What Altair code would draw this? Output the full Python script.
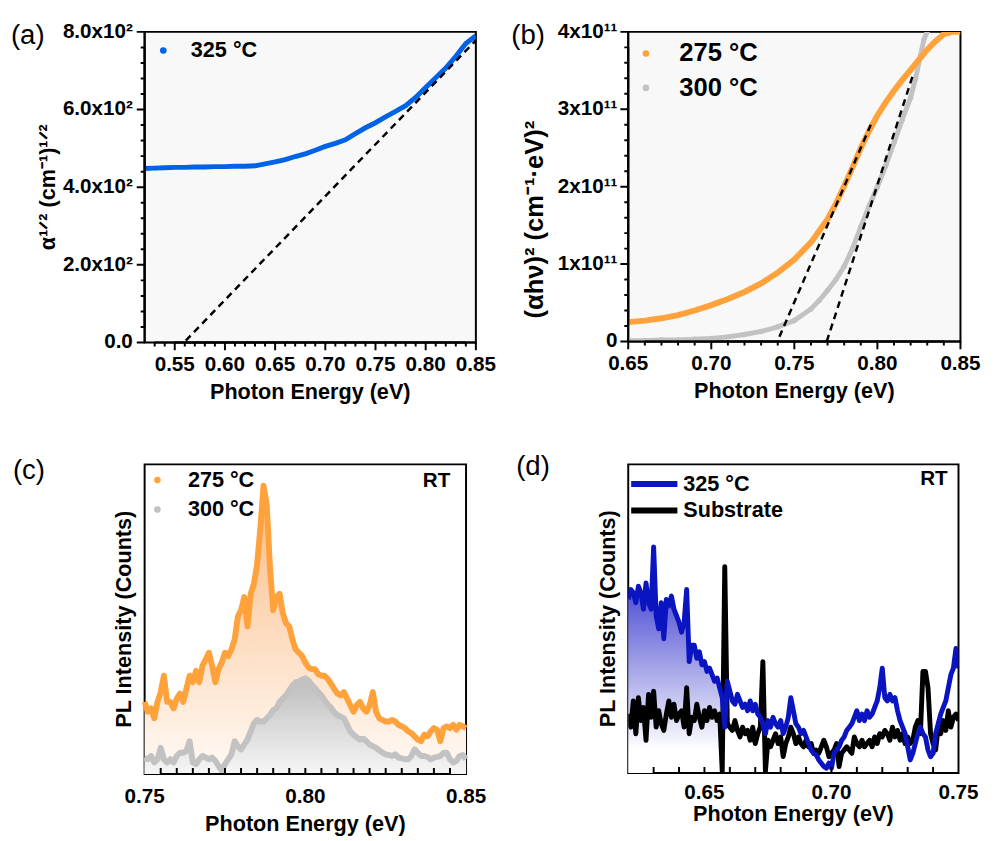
import altair as alt
import pandas as pd

FONT = "Liberation Sans"

# ---------------- (a) ----------------
a_energy = [0.52, 0.53, 0.54, 0.55, 0.56, 0.57, 0.58, 0.59, 0.60, 0.61, 0.62, 0.63,
            0.64, 0.65, 0.66, 0.67, 0.68, 0.69, 0.70, 0.71, 0.72, 0.73, 0.74, 0.75,
            0.76, 0.77, 0.78, 0.79, 0.80, 0.81, 0.82, 0.83, 0.84, 0.85]
a_sqrt_alpha = [448, 449, 450, 451, 451, 452, 452, 453, 453, 454, 454, 455,
                460, 465, 471, 479, 486, 495, 505, 513, 522, 538, 553, 566,
                581, 595, 610, 631, 657, 682, 707, 737, 770, 790]
a_fit_energy = [0.561, 0.85]
a_fit_value = [5, 778]
a_legend = ["325 °C"]
a_x_major = [0.55, 0.60, 0.65, 0.70, 0.75, 0.80, 0.85]
a_x_labels = ["0.55", "0.60", "0.65", "0.70", "0.75", "0.80", "0.85"]
a_x_minor = [0.53, 0.54, 0.56, 0.57, 0.58, 0.59, 0.61, 0.62, 0.63, 0.64, 0.66, 0.67,
             0.68, 0.69, 0.71, 0.72, 0.73, 0.74, 0.76, 0.77, 0.78, 0.79, 0.81, 0.82,
             0.83, 0.84]
a_y_major = [0, 200, 400, 600, 800]
a_y_labels = ["0.0", "2.0x10²", "4.0x10²", "6.0x10²", "8.0x10²"]
a_y_minor = [40, 80, 120, 160, 240, 280, 320, 360, 440, 480, 520, 560, 640, 680,
             720, 760]
a_y_title = "α¹ᐟ² (cm⁻¹)¹ᐟ²"

# ---------------- (b) ----------------
b_energy_275 = [0.650, 0.660, 0.670, 0.680, 0.690, 0.700, 0.710, 0.720, 0.730, 0.740,
                0.750, 0.760, 0.770, 0.775, 0.780, 0.785, 0.790, 0.795, 0.800, 0.805,
                0.810, 0.815, 0.820, 0.825, 0.830, 0.835, 0.840, 0.845, 0.850]
b_value_275 = [0.25, 0.27, 0.30, 0.34, 0.40, 0.47, 0.55, 0.64, 0.75, 0.89,
               1.06, 1.28, 1.58, 1.78, 2.01, 2.25, 2.50, 2.72, 2.92, 3.09,
               3.24, 3.38, 3.51, 3.64, 3.77, 3.88, 3.97, 4.00, 4.00]
b_energy_300 = [0.650, 0.660, 0.670, 0.680, 0.690, 0.700, 0.710, 0.720, 0.730, 0.740,
                0.750, 0.760, 0.765, 0.770, 0.775, 0.780, 0.785, 0.790, 0.795, 0.800,
                0.805, 0.810, 0.815, 0.820, 0.823, 0.826, 0.828, 0.830]
b_value_300 = [0.01, 0.01, 0.02, 0.02, 0.03, 0.04, 0.06, 0.09, 0.13, 0.19,
               0.27, 0.42, 0.53, 0.66, 0.80, 0.97, 1.20, 1.48, 1.75, 2.00,
               2.27, 2.57, 2.87, 3.15, 3.40, 3.70, 3.90, 4.00]
b_fit1_energy = [0.741, 0.797]
b_fit1_value = [0.06, 2.85]
b_fit2_energy = [0.7695, 0.8215]
b_fit2_value = [0.0, 3.45]
b_legend = ["275 °C", "300 °C"]
b_x_major = [0.65, 0.70, 0.75, 0.80, 0.85]
b_x_labels = ["0.65", "0.70", "0.75", "0.80", "0.85"]
b_x_minor = [0.66, 0.67, 0.68, 0.69, 0.71, 0.72, 0.73, 0.74, 0.76, 0.77, 0.78, 0.79,
             0.81, 0.82, 0.83, 0.84]
b_y_major = [0, 1, 2, 3, 4]
b_y_labels = ["0", "1x10¹¹", "2x10¹¹", "3x10¹¹", "4x10¹¹"]
b_y_minor = [0.2, 0.4, 0.6, 0.8, 1.2, 1.4, 1.6, 1.8, 2.2, 2.4, 2.6, 2.8, 3.2, 3.4,
             3.6, 3.8]
b_y_title = "(αhν)² (cm⁻¹·eV)²"

# ---------------- (c) ----------------
c_energy = [0.750, 0.751, 0.752, 0.753, 0.754, 0.755, 0.756, 0.757, 0.758, 0.759,
            0.760, 0.761, 0.762, 0.763, 0.764, 0.765, 0.766, 0.767, 0.768, 0.769,
            0.770, 0.771, 0.772, 0.773, 0.774, 0.775, 0.776, 0.777, 0.778, 0.779,
            0.780, 0.781, 0.782, 0.783, 0.784, 0.785, 0.786, 0.787, 0.788, 0.789,
            0.790, 0.791, 0.792, 0.793, 0.794, 0.795, 0.796, 0.797, 0.798, 0.799,
            0.800, 0.801, 0.802, 0.803, 0.804, 0.805, 0.806, 0.807, 0.808, 0.809,
            0.810, 0.811, 0.812, 0.813, 0.814, 0.815, 0.816, 0.817, 0.818, 0.819,
            0.820, 0.821, 0.822, 0.823, 0.824, 0.825, 0.826, 0.827, 0.828, 0.829,
            0.830, 0.831, 0.832, 0.833, 0.834, 0.835, 0.836, 0.837, 0.838, 0.839,
            0.840, 0.841, 0.842, 0.843, 0.844, 0.845, 0.846, 0.847, 0.848, 0.849,
            0.850]
c_pl_275 = [220, 190, 200, 170, 220, 250, 300, 220, 220, 200,
            230, 245, 220, 260, 300, 280, 315, 280, 330, 350,
            370, 330, 280, 320, 340, 370, 360, 380, 410, 480,
            500, 540, 450, 550, 580, 640, 750, 880, 820, 630,
            500, 540, 550, 490, 460, 450, 410, 380, 370, 360,
            340, 325, 320, 320, 305, 300, 300, 290, 275, 260,
            245, 240, 250, 230, 210, 190, 210, 220, 200, 190,
            210, 250, 190, 170, 165, 160, 160, 165, 160, 150,
            145, 140, 130, 125, 115, 105, 100, 120, 115, 130,
            140, 135, 100, 140, 145, 140, 150, 135, 150, 145,
            140]
c_pl_300 = [50, 45, 55, 35, 45, 80, 45, 35, 45, 35,
            55, 65, 65, 70, 100, 35, 30, 45, 55, 50,
            45, 50, 40, 25, 10, 30, 45, 60, 100, 85,
            75, 90, 105, 130, 155, 165, 160, 160, 170, 180,
            195, 200, 220, 230, 240, 255, 270, 280, 282, 288,
            292, 285, 272, 262, 250, 240, 225, 212, 202, 188,
            180, 175, 170, 150, 130, 120, 112, 105, 108, 100,
            90, 85, 80, 72, 65, 60, 58, 55, 60, 50,
            48, 45, 45, 55, 75, 65, 55, 55, 52, 45,
            50, 52, 55, 65, 65, 45, 35, 40, 55, 58,
            45]
c_legend = ["275 °C", "300 °C"]
c_x_major = [0.75, 0.80, 0.85]
c_x_labels = ["0.75", "0.80", "0.85"]
c_x_ticks = [0.755, 0.760, 0.765, 0.770, 0.775, 0.780, 0.785, 0.790, 0.795, 0.800,
             0.805, 0.810, 0.815, 0.820, 0.825, 0.830, 0.835, 0.840, 0.845]

# ---------------- (d) ----------------
d_energy = [0.620, 0.621, 0.622, 0.623, 0.624, 0.625, 0.626, 0.627, 0.628, 0.629,
            0.630, 0.631, 0.632, 0.633, 0.634, 0.635, 0.636, 0.637, 0.638, 0.639,
            0.640, 0.641, 0.642, 0.643, 0.644, 0.645, 0.646, 0.647, 0.648, 0.649,
            0.650, 0.651, 0.652, 0.653, 0.654, 0.655, 0.656, 0.657, 0.658, 0.659,
            0.660, 0.661, 0.662, 0.663, 0.664, 0.665, 0.666, 0.667, 0.668, 0.669,
            0.670, 0.671, 0.672, 0.673, 0.674, 0.675, 0.676, 0.677, 0.678, 0.679,
            0.680, 0.681, 0.682, 0.683, 0.684, 0.685, 0.686, 0.687, 0.688, 0.689,
            0.690, 0.691, 0.692, 0.693, 0.694, 0.695, 0.696, 0.697, 0.698, 0.699,
            0.700, 0.701, 0.702, 0.703, 0.704, 0.705, 0.706, 0.707, 0.708, 0.709,
            0.710, 0.711, 0.712, 0.713, 0.714, 0.715, 0.716, 0.717, 0.718, 0.719,
            0.720, 0.721, 0.722, 0.723, 0.724, 0.725, 0.726, 0.727, 0.728, 0.729,
            0.730, 0.731, 0.732, 0.733, 0.734, 0.735, 0.736, 0.737, 0.738, 0.739,
            0.740, 0.741, 0.742, 0.743, 0.744, 0.745, 0.746, 0.747, 0.748, 0.749,
            0.750]
d_pl_325 = [530, 560, 550, 520, 570, 550, 500, 580, 520, 500,
            690, 480, 440, 520, 410, 530, 510, 540, 500, 480,
            460, 430, 460, 560, 340, 390, 390, 350, 370, 330,
            340, 310, 320, 300, 280, 290, 260, 230, 140, 280,
            250, 220, 210, 240, 220, 200, 210, 190, 220, 190,
            210, 180, 170, 150, 120, 160, 140, 170, 150, 140,
            160, 120, 140, 170, 230, 190, 150, 140, 120, 130,
            110, 90, 70, 60, 55, 40, 30, 20, 15, 30,
            15, 60, 70, 80, 100, 110, 130, 140, 150, 170,
            190, 160, 180, 160, 190, 170, 180, 200, 220, 260,
            320, 230, 220, 240, 220, 230, 190, 160, 140, 120,
            80, 40, 60, 90, 120, 140, 120, 110, 70, 50,
            60, 120, 150, 180, 200, 220, 260, 300, 320, 380,
            320]
d_pl_substrate = [180, 140, 220, 120, 230, 160, 200, 100, 240, 170,
                  250, 140, 190, 150, 130, 180, 220, 170, 210, 160,
                  180, 190, 140, 260, 120, 170, 160, 210, 170, 140,
                  190, 160, 200, 170, 190, 160, 180, 5, 630, 150,
                  140, 130, 160, 130, 110, 140, 120, 130, 100, 140,
                  90, 120, 140, 340, 5, 100, 80, 100, 120, 90,
                  110, 50, 90, 110, 140, 120, 90, 110, 90, 80,
                  100, 80, 90, 60, 70, 60, 80, 100, 80, 50,
                  60, 70, 90, 20, 60, 70, 80, 70, 60, 110,
                  90, 80, 100, 80, 90, 100, 80, 110, 90, 120,
                  110, 130, 120, 100, 140, 110, 130, 100, 120, 90,
                  110, 90, 100, 140, 160, 120, 310, 310, 260, 120,
                  90, 70, 140, 120, 160, 130, 190, 140, 170, 180,
                  160]
d_fill_count = 38
d_legend = ["325 °C", "Substrate"]
d_x_major = [0.65, 0.70, 0.75]
d_x_labels = ["0.65", "0.70", "0.75"]
d_x_ticks = [0.63, 0.64, 0.65, 0.66, 0.67, 0.68, 0.69, 0.70, 0.71, 0.72, 0.73, 0.74]

panel_labels = ["(a)", "(b)", "(c)", "(d)"]
rt_label = ["RT"]
x_title = "Photon Energy (eV)"
pl_title = "PL Intensity (Counts)"

BLUE_A = "#0062e6"
ORANGE = "#ffa23c"
GRAY = "#c2c2c2"
BLUE_D = "#0a14c0"


def text_layer(txt, x, y, size, weight="bold", align="left", baseline="middle", angle=0):
    return alt.Chart(pd.DataFrame({"label": [txt]})).mark_text(
        font=FONT, fontSize=size, fontWeight=weight, align=align,
        baseline=baseline, color="black", angle=angle
    ).encode(text="label:N", x=alt.value(x), y=alt.value(y))


def dot_layer(color, x, y, size=40):
    return alt.Chart(pd.DataFrame({"k": [0]})).mark_circle(
        color=color, size=size, opacity=1
    ).encode(x=alt.value(x), y=alt.value(y))


def seg_layer(color, x1, x2, y, width=6):
    return alt.Chart(pd.DataFrame({"k": [0]})).mark_rule(
        color=color, strokeWidth=width
    ).encode(x=alt.value(x1), x2=alt.value(x2), y=alt.value(y))


def xcomb_layer(values, scale_x, scale_y, base, length_px, height_px, domain_span):
    # tick marks along the x axis drawn as one comb-shaped path through the scales
    tip = base - domain_span * length_px / height_px
    xs, ys = [], []
    for t in values:
        xs += [t, t, t]
        ys += [base, tip, base]
    df = pd.DataFrame({"cx": xs, "cy": ys, "k": list(range(len(xs)))})
    return alt.Chart(df).mark_line(color="black", strokeWidth=2, strokeJoin="bevel",
                                   strokeCap="butt").encode(
        x=alt.X("cx:Q", scale=scale_x, axis=None),
        y=alt.Y("cy:Q", scale=scale_y, axis=None),
        order=alt.Order("k:Q"),
    )


def ycomb_layer(values, scale_x, scale_y, base, length_px, width_px, domain_span):
    tip = base - domain_span * length_px / width_px
    xs, ys = [], []
    for t in values:
        ys += [t, t, t]
        xs += [base, tip, base]
    df = pd.DataFrame({"cx": xs, "cy": ys, "k": list(range(len(xs)))})
    return alt.Chart(df).mark_line(color="black", strokeWidth=2, strokeJoin="bevel",
                                   strokeCap="butt").encode(
        x=alt.X("cx:Q", scale=scale_x, axis=None),
        y=alt.Y("cy:Q", scale=scale_y, axis=None),
        order=alt.Order("k:Q"),
    )


def xlabels_layer(values, labels, scale, y, size=21):
    return alt.Chart(pd.DataFrame({"xl": values, "label": labels})).mark_text(
        font=FONT, fontSize=size, fontWeight="bold", color="black",
        align="center", baseline="top"
    ).encode(x=alt.X("xl:Q", scale=scale, axis=None), y=alt.value(y), text="label:N")


def ylabels_layer(values, labels, scale, x, size=21):
    return alt.Chart(pd.DataFrame({"yl": values, "label": labels})).mark_text(
        font=FONT, fontSize=size, fontWeight="bold", color="black",
        align="right", baseline="middle"
    ).encode(y=alt.Y("yl:Q", scale=scale, axis=None), x=alt.value(x), text="label:N")


def series(scale_x, scale_y):
    return dict(x=alt.X("E:Q", scale=scale_x, axis=None),
                y=alt.Y("v:Q", scale=scale_y, axis=None))


# ---------------- panel (a) ----------------
A_W, A_H = 337, 316
xa = alt.Scale(domain=[0.52, 0.85], nice=False, zero=False)
ya = alt.Scale(domain=[0, 800], nice=False, zero=False)
df_a = pd.DataFrame({"E": a_energy, "v": a_sqrt_alpha})
df_a_fit = pd.DataFrame({"E": a_fit_energy, "v": a_fit_value})

a_curve = alt.Chart(df_a).mark_line(color=BLUE_A, strokeWidth=5, clip=True).encode(**series(xa, ya))
a_fit = alt.Chart(df_a_fit).mark_line(color="black", strokeWidth=2.5, strokeDash=[7, 5]).encode(**series(xa, ya))
panel_a = alt.layer(
    a_curve, a_fit,
    xcomb_layer(a_x_major, xa, ya, 0, 8, A_H, 800),
    xcomb_layer(a_x_minor, xa, ya, 0, 4, A_H, 800),
    ycomb_layer(a_y_major, xa, ya, 0.52, 8, A_W, 0.33),
    ycomb_layer(a_y_minor, xa, ya, 0.52, 4, A_W, 0.33),
    xlabels_layer(a_x_major, a_x_labels, xa, A_H + 12),
    ylabels_layer(a_y_major, a_y_labels, ya, -12),
    text_layer(x_title, A_W / 2, A_H + 40, 22, align="center", baseline="top"),
    text_layer(a_y_title, -98, A_H / 2, 22, align="center", angle=270),
    dot_layer(BLUE_A, 19, 19, 45),
    text_layer(a_legend[0], 47, 19, 22),
    text_layer(panel_labels[0], -136, 4, 28, weight="normal"),
).properties(
    width=A_W, height=A_H,
    view=alt.ViewBackground(fill="#f8f8f8", stroke="black", strokeWidth=2),
)

# ---------------- panel (b) ----------------
B_W, B_H = 338, 315
xb = alt.Scale(domain=[0.65, 0.85], nice=False, zero=False)
yb = alt.Scale(domain=[0, 4], nice=False, zero=False)
df_b275 = pd.DataFrame({"E": b_energy_275, "v": b_value_275})
df_b300 = pd.DataFrame({"E": b_energy_300, "v": b_value_300})
df_bf1 = pd.DataFrame({"E": b_fit1_energy, "v": b_fit1_value})
df_bf2 = pd.DataFrame({"E": b_fit2_energy, "v": b_fit2_value})

b_gray = alt.Chart(df_b300).mark_line(color=GRAY, strokeWidth=5, clip=True).encode(**series(xb, yb))
b_gray_pts = alt.Chart(df_b300).mark_circle(color=GRAY, size=30, opacity=1, clip=True).encode(**series(xb, yb))
b_orange = alt.Chart(df_b275).mark_line(color=ORANGE, strokeWidth=6, clip=True).encode(**series(xb, yb))
b_fit1 = alt.Chart(df_bf1).mark_line(color="black", strokeWidth=2.5, strokeDash=[7, 5]).encode(**series(xb, yb))
b_fit2 = alt.Chart(df_bf2).mark_line(color="black", strokeWidth=2.5, strokeDash=[7, 5]).encode(**series(xb, yb))

panel_b = alt.layer(
    b_gray, b_gray_pts, b_orange, b_fit1, b_fit2,
    xcomb_layer(b_x_major, xb, yb, 0, 8, B_H, 4),
    xcomb_layer(b_x_minor, xb, yb, 0, 4, B_H, 4),
    ycomb_layer(b_y_major, xb, yb, 0.65, 8, B_W, 0.2),
    ycomb_layer(b_y_minor, xb, yb, 0.65, 4, B_W, 0.2),
    xlabels_layer(b_x_major, b_x_labels, xb, B_H + 12),
    ylabels_layer(b_y_major, b_y_labels, yb, -11),
    text_layer(x_title, B_W / 2, B_H + 40, 22, align="center", baseline="top"),
    text_layer(b_y_title, -95, 191, 26, align="center", angle=270),
    dot_layer(ORANGE, 18, 22, 45),
    text_layer(b_legend[0], 52, 22, 26),
    dot_layer(GRAY, 18, 57, 45),
    text_layer(b_legend[1], 52, 57, 26),
    text_layer(panel_labels[1], -119, 4, 28, weight="normal"),
).properties(
    width=B_W, height=B_H,
    view=alt.ViewBackground(fill="#f8f8f8", stroke="black", strokeWidth=2),
)

# ---------------- panel (c) ----------------
C_W, C_H = 327, 315
xc = alt.Scale(domain=[0.75, 0.85], nice=False, zero=False)
yc = alt.Scale(domain=[0, 945], nice=False, zero=False)
df_c_o = pd.DataFrame({"E": c_energy, "v": c_pl_275})
df_c_g = pd.DataFrame({"E": c_energy, "v": c_pl_300})

c_area_o = alt.Chart(df_c_o).mark_area(
    color=alt.Gradient(gradient="linear", x1=0, x2=0, y1=0, y2=1,
                       stops=[alt.GradientStop(offset=0, color="#fbbb84"),
                              alt.GradientStop(offset=1, color="#fffaf6")])
).encode(**series(xc, yc))
c_area_g = alt.Chart(df_c_g).mark_area(
    color=alt.Gradient(gradient="linear", x1=0, x2=0, y1=0, y2=1,
                       stops=[alt.GradientStop(offset=0, color="#bdbdbd"),
                              alt.GradientStop(offset=1, color="#f6f6f6")])
).encode(**series(xc, yc))
c_line_o = alt.Chart(df_c_o).mark_line(color=ORANGE, strokeWidth=6, strokeJoin="round").encode(**series(xc, yc))
c_line_g = alt.Chart(df_c_g).mark_line(color=GRAY, strokeWidth=6, strokeJoin="round").encode(**series(xc, yc))

panel_c = alt.layer(
    c_area_o, c_area_g, c_line_g, c_line_o,
    xcomb_layer(c_x_ticks, xc, yc, 0, -6, C_H, 945),
    xlabels_layer(c_x_major, c_x_labels, xc, C_H + 13),
    text_layer(x_title, C_W / 2, C_H + 41, 22, align="center", baseline="top"),
    text_layer(pl_title, -21, C_H / 2, 22, align="center", angle=270),
    dot_layer(ORANGE, 13, 16, 45),
    text_layer(c_legend[0], 44, 16, 22),
    dot_layer(GRAY, 13, 46, 45),
    text_layer(c_legend[1], 44, 46, 22),
    text_layer(rt_label[0], 311, 17, 21, align="right"),
    text_layer(panel_labels[2], -134, 7, 28, weight="normal"),
).properties(
    width=C_W, height=C_H,
    view=alt.ViewBackground(fill="white", stroke="black", strokeWidth=2),
)

# ---------------- panel (d) ----------------
D_W, D_H = 336, 314
xd = alt.Scale(domain=[0.62, 0.75], nice=False, zero=False)
yd = alt.Scale(domain=[0, 942], nice=False, zero=False)
df_d_b = pd.DataFrame({"E": d_energy, "v": d_pl_325})
df_d_s = pd.DataFrame({"E": d_energy, "v": d_pl_substrate})
df_d_fill = df_d_b.iloc[:d_fill_count]

d_area = alt.Chart(df_d_fill).mark_area(
    color=alt.Gradient(gradient="linear", x1=0, x2=0, y1=0, y2=1,
                       stops=[alt.GradientStop(offset=0, color="#2020c8"),
                              alt.GradientStop(offset=0.9, color="#ffffff"),
                              alt.GradientStop(offset=1, color="#ffffff")])
).encode(**series(xd, yd))
d_sub = alt.Chart(df_d_s).mark_line(color="black", strokeWidth=5, strokeJoin="round", clip=True).encode(**series(xd, yd))
d_blue = alt.Chart(df_d_b).mark_line(color=BLUE_D, strokeWidth=5, strokeJoin="round", clip=True).encode(**series(xd, yd))

panel_d = alt.layer(
    d_area, d_sub, d_blue,
    xcomb_layer(d_x_ticks, xd, yd, 0, -6, D_H, 942),
    xlabels_layer(d_x_major, d_x_labels, xd, D_H + 9),
    text_layer(x_title, D_W / 2, D_H + 32, 22, align="center", baseline="top"),
    text_layer(pl_title, -20, D_H / 2, 22, align="center", angle=270),
    seg_layer(BLUE_D, 3, 50, 20),
    text_layer(d_legend[0], 56, 20, 22),
    seg_layer("black", 3, 50, 47),
    text_layer(d_legend[1], 56, 47, 22),
    text_layer(rt_label[0], 325, 15, 21, align="right"),
    text_layer(panel_labels[3], -114, 3, 28, weight="normal"),
).properties(
    width=D_W, height=D_H,
    view=alt.ViewBackground(fill="white", stroke="black", strokeWidth=2),
)

chart = alt.concat(
    panel_a, panel_b, panel_c, panel_d,
    columns=2, spacing={"row": 124, "column": 155}, bounds="flush",
).properties(
    padding={"left": 2, "top": 5, "right": 5, "bottom": 5}
).configure_view(stroke="black", strokeWidth=2)

chart.save("out.html", embed_options={"renderer": "svg", "actions": False})
